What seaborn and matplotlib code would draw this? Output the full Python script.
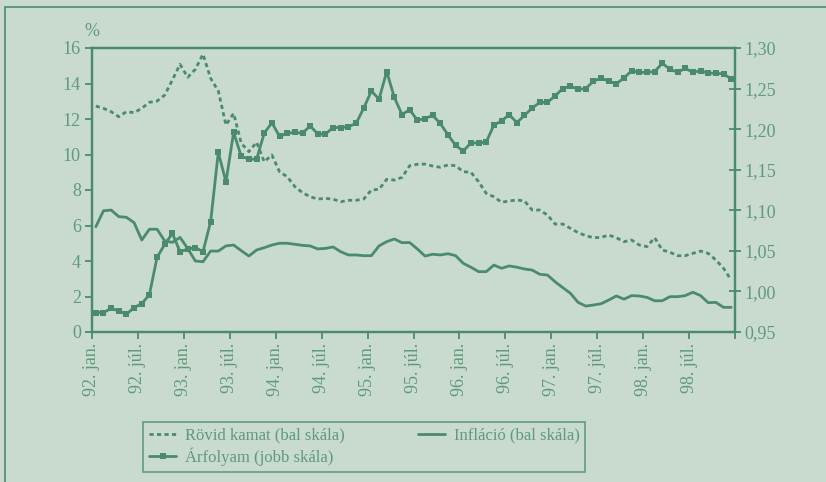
import numpy as np
import pandas as pd
import matplotlib
matplotlib.use("Agg")
import matplotlib.pyplot as plt
from matplotlib.ticker import FuncFormatter
from matplotlib.patches import Rectangle
import seaborn as sns

# --- adatok (havi, 92. jan. - 98. dec.) ---
rovid_kamat = [12.73, 12.60, 12.41, 12.13, 12.41, 12.36, 12.60, 12.94, 13.01, 13.35,
               14.20, 15.08, 14.35, 14.80, 15.65, 14.29, 13.58, 11.66, 12.32, 10.63,
               10.16, 10.69, 9.59, 9.97, 9.03, 8.75, 8.19, 7.85, 7.62, 7.49,
               7.53, 7.48, 7.34, 7.42, 7.42, 7.49, 8.00, 8.04, 8.60, 8.56,
               8.71, 9.37, 9.45, 9.46, 9.35, 9.28, 9.41, 9.37, 9.03, 9.00,
               8.47, 7.81, 7.62, 7.31, 7.38, 7.44, 7.38, 6.87, 6.87, 6.59,
               6.08, 6.08, 5.84, 5.60, 5.43, 5.31, 5.33, 5.46, 5.31, 5.09,
               5.18, 4.90, 4.81, 5.31, 4.62, 4.49, 4.30, 4.30, 4.43, 4.56,
               4.43, 4.06, 3.59, 2.93]

inflacio = [5.93, 6.83, 6.87, 6.50, 6.46, 6.16, 5.18, 5.79, 5.79, 5.13,
            5.05, 5.33, 4.71, 4.00, 3.96, 4.56, 4.56, 4.85, 4.90, 4.58,
            4.28, 4.62, 4.75, 4.90, 5.00, 5.00, 4.94, 4.88, 4.85, 4.68,
            4.71, 4.79, 4.52, 4.34, 4.34, 4.30, 4.30, 4.85, 5.09, 5.24,
            5.03, 5.04, 4.68, 4.28, 4.38, 4.34, 4.41, 4.30, 3.87, 3.65,
            3.40, 3.40, 3.77, 3.59, 3.72, 3.65, 3.55, 3.49, 3.25, 3.21,
            2.83, 2.50, 2.18, 1.67, 1.46, 1.52, 1.59, 1.80, 2.03, 1.85,
            2.05, 2.03, 1.95, 1.76, 1.76, 1.99, 1.99, 2.05, 2.24, 2.05,
            1.65, 1.67, 1.39, 1.39]

arfolyam = [0.974, 0.974, 0.979, 0.976, 0.972, 0.980, 0.985, 0.996, 1.042, 1.058,
            1.0715, 1.049, 1.052, 1.054, 1.049, 1.086, 1.1715, 1.135, 1.196, 1.1665,
            1.163, 1.163, 1.195, 1.208, 1.191, 1.195, 1.196, 1.195, 1.204, 1.194,
            1.194, 1.202, 1.202, 1.203, 1.207, 1.226, 1.247, 1.237, 1.271, 1.239,
            1.218, 1.224, 1.211, 1.213, 1.217, 1.207, 1.193, 1.180, 1.173, 1.183,
            1.183, 1.184, 1.205, 1.210, 1.218, 1.208, 1.217, 1.226, 1.233, 1.233,
            1.241, 1.250, 1.253, 1.249, 1.250, 1.259, 1.263, 1.259, 1.256, 1.263,
            1.272, 1.270, 1.270, 1.271, 1.281, 1.274, 1.270, 1.275, 1.270, 1.272,
            1.269, 1.269, 1.268, 1.262]

tick_labels = ['92. jan.', '92. júl.', '93. jan.', '93. júl.', '94. jan.', '94. júl.',
               '95. jan.', '95. júl.', '96. jan.', '96. júl.', '97. jan.', '97. júl.',
               '98. jan.', '98. júl.']

honap = np.arange(len(rovid_kamat)) + 0.5
df = pd.DataFrame({'honap': honap, 'rovid': rovid_kamat, 'infl': inflacio, 'arf': arfolyam})

# --- stílus ---
hatter = '#c9dacf'
zold = '#4b8b6d'
szoveg = '#5f9a7c'

sns.set_theme(style="white")
plt.rcParams['font.family'] = ['Liberation Serif', 'DejaVu Serif']

fig = plt.figure(figsize=(8.26, 4.82), dpi=100, facecolor=hatter)
ax = fig.add_axes([92/826, 1 - 332/482, (735 - 92)/826, (332 - 48)/482])
ax.set_facecolor(hatter)
ax2 = ax.twinx()

sns.lineplot(data=df, x='honap', y='rovid', ax=ax, color=zold, linewidth=2,
             linestyle=(0, (1.5, 1.2)), label='Rövid kamat (bal skála)', legend=False)
sns.lineplot(data=df, x='honap', y='infl', ax=ax, color=zold, linewidth=2,
             label='Infláció (bal skála)', legend=False)
sns.lineplot(data=df, x='honap', y='arf', ax=ax2, color=zold, linewidth=2,
             marker='s', markersize=5, markeredgewidth=0,
             label='Árfolyam (jobb skála)', legend=False)

ax.set_xlim(0, 84)
ax.set_ylim(0, 16)
ax2.set_ylim(0.95, 1.30)
ax.set_yticks(range(0, 17, 2))
ax2.set_yticks(np.arange(0.95, 1.301, 0.05))
ax2.yaxis.set_major_formatter(FuncFormatter(lambda v, p: f'{v:.2f}'.replace('.', ',')))
ax.set_xticks(range(0, 85, 6))
ax.set_xticklabels(tick_labels + [''], rotation=90, va='top', ha='center')

for a in (ax, ax2):
    a.set_xlabel('')
    a.set_ylabel('')
    for s in a.spines.values():
        s.set_color(zold)
        s.set_linewidth(1.6)

ax.tick_params(axis='both', colors=zold, labelcolor=szoveg, labelsize=13,
               direction='out', length=5, width=1.3, left=True, bottom=True)
ax.tick_params(axis='x', pad=3)
ax.tick_params(axis='y', pad=3)
ax2.tick_params(axis='y', colors=zold, labelcolor=szoveg, labelsize=13,
                direction='inout', length=9, width=1.3, right=True, pad=2)

fig.text(92/826, 1 - 31/482, '%', color=szoveg, fontsize=13, ha='center', va='center')

# legenda
h1, l1 = ax.get_legend_handles_labels()
h2, l2 = ax2.get_legend_handles_labels()
handles = [h1[0], h2[0], h1[1]]
labels = [l1[0], l2[0], l1[1]]
leg = fig.legend(handles, labels, ncol=2, loc='upper left',
                 bbox_to_anchor=(143/826, 1 - 422/482), borderaxespad=0,
                 frameon=True, fancybox=False,
                 fontsize=12, handlelength=1.65, handletextpad=0.5, columnspacing=4.4,
                 labelspacing=0.2, borderpad=0.35, labelcolor=szoveg)
leg.get_frame().set_facecolor(hatter)
leg.get_frame().set_edgecolor(zold)
leg.get_frame().set_linewidth(1.2)

# külső keret
fig.patches.append(Rectangle((5/826, -0.05), 1.1, 1 - 7/482 + 0.05, transform=fig.transFigure,
                             fill=False, edgecolor=zold, linewidth=1.2))

plt.savefig('out.png', dpi=100, facecolor=hatter)
